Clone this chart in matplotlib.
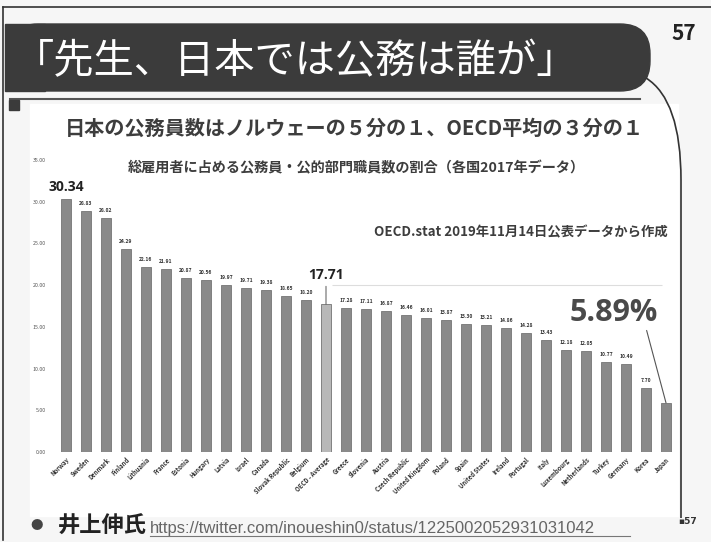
import matplotlib
matplotlib.use('Agg')
import matplotlib.pyplot as plt
from matplotlib.patches import FancyBboxPatch, Rectangle, PathPatch
from matplotlib.path import Path


COUNTRIES = [
    'Norway', 'Sweden', 'Denmark', 'Finland', 'Lithuania', 'France', 'Estonia',
    'Hungary', 'Latvia', 'Israel', 'Canada', 'Slovak Republic', 'Belgium',
    'OECD - Average', 'Greece', 'Slovenia', 'Austria', 'Czech Republic',
    'United Kingdom', 'Poland', 'Spain', 'United States', 'Ireland',
    'Portugal', 'Italy', 'Luxembourg', 'Netherlands', 'Turkey', 'Germany',
    'Korea', 'Japan',
]
SHARES = [
    30.34, 28.83, 28.02, 24.29, 22.16, 21.91, 20.87,
    20.56, 19.97, 19.71, 19.38, 18.65, 18.20,
    17.71, 17.28, 17.11, 16.87, 16.46,
    16.01, 15.87, 15.30, 15.21, 14.86,
    14.28, 13.43, 12.18, 12.05, 10.77, 10.49,
    7.70, 5.89,
]
Y_TICKS = [0, 5, 10, 15, 20, 25, 30, 35]

W, H = 711, 542
JP = ['Noto Sans CJK JP', 'DejaVu Sans']


def px_rect(x0, y0, x1, y1):
    # pixel box (top-left origin) -> figure fraction
    return [x0 / W, 1 - y1 / H, (x1 - x0) / W, (y1 - y0) / H]


def draw_frame(bg):
    bg.add_patch(Rectangle((0, 0), W, H, color='#f6f6f6', zorder=0))
    bg.add_patch(Rectangle((30, 104), 648, 412, color='white', zorder=1))
    bg.plot([3, 3], [7, 540], color='#333333', lw=1.2, zorder=2)
    bg.plot([3, 711], [7, 7], color='#333333', lw=1.2, zorder=2)
    bg.add_patch(FancyBboxPatch((8, 24), 642, 67,
                                boxstyle='round,pad=0,rounding_size=30',
                                color='#3b3b3b', zorder=3))
    bg.add_patch(Rectangle((5, 24), 40, 67, color='#3b3b3b', zorder=3))
    bg.plot([10, 640], [99, 99], color='#555555', lw=1.5, zorder=3)
    bg.add_patch(Rectangle((9, 100), 10, 10, color='#3b3b3b', zorder=3))
    curve = Path([(646, 78), (681, 100), (681, 180), (681, 518)],
                 [Path.MOVETO, Path.CURVE3, Path.CURVE3, Path.LINETO])
    bg.add_patch(PathPatch(curve, facecolor='none', edgecolor='#333333',
                           lw=1.2, zorder=3))


def draw_texts(bg):
    bg.text(14, 62, '「先生、日本では公務は誰が」', color='white', fontsize=29,
            family=JP, va='center', ha='left', zorder=4)
    bg.text(684, 34, '57', fontsize=15, fontweight='bold', family=JP,
            ha='center', va='center', color='#222222', zorder=4)
    bg.text(354, 128, '日本の公務員数はノルウェーの５分の１、OECD平均の３分の１',
            fontsize=14.5, fontweight='bold', family=JP, ha='center',
            va='center', color='#3d3d3d', zorder=4)
    bg.text(356, 168, '総雇用者に占める公務員・公的部門職員数の割合（各国2017年データ）',
            fontsize=10.2, fontweight='bold', family=JP, ha='center',
            va='center', color='#3d3d3d', zorder=4)
    bg.text(668, 232, 'OECD.stat 2019年11月14日公表データから作成',
            fontsize=9.6, fontweight='bold', family=JP, ha='right',
            va='center', color='#3d3d3d', zorder=4)
    bg.text(30, 526, '●', fontsize=9, family=JP, ha='left', va='center',
            color='#444444', zorder=4)
    bg.text(58, 526, '井上伸氏', fontsize=16, fontweight='bold', family=JP,
            ha='left', va='center', color='#222222', zorder=4)
    bg.text(150, 528, 'https://twitter.com/inoueshin0/status/1225002052931031042',
            fontsize=12, family='Liberation Sans', ha='left',
            va='center', color='#666666', zorder=4)
    bg.plot([150, 630], [536, 536], color='#777777', lw=0.8, zorder=4)
    bg.text(688, 522, '▪57', fontsize=6.5, fontweight='bold',
            family='DejaVu Sans', ha='center', va='center', color='#333333',
            zorder=4)


def plot_chart(ax):
    idx = list(range(len(COUNTRIES)))
    colors = ['#b8b8b8' if c.startswith('OECD') else '#8a8a8a' for c in COUNTRIES]
    ax.bar(idx, SHARES, width=0.48, color=colors, edgecolor='#747474',
           linewidth=0.6, zorder=2)
    ax.hlines(20, 13.3, 29.8, color='#dddddd', lw=0.8, zorder=1)

    for i, v in enumerate(SHARES):
        if COUNTRIES[i] in ('Norway', 'OECD - Average', 'Japan'):
            continue
        ax.text(i, v + 0.6, f'{v:.2f}', fontsize=3.6, fontweight='bold',
                ha='center', va='bottom', color='#333333')

    ax.text(0, 31.8, f'{SHARES[0]:.2f}', fontsize=10, fontweight='bold',
            family='Open Sans', ha='center', va='center', color='#222222')
    oecd = COUNTRIES.index('OECD - Average')
    ax.annotate(f'{SHARES[oecd]:.2f}', xy=(oecd, SHARES[oecd]),
                xytext=(oecd, 21.2), fontsize=10, fontweight='bold',
                family='Open Sans', ha='center', va='center', color='#222222',
                arrowprops=dict(arrowstyle='-', color='#555555', lw=0.7,
                                relpos=(0.5, 0), shrinkA=1, shrinkB=0))
    jp = COUNTRIES.index('Japan')
    ax.annotate(f'{SHARES[jp]:.2f}%', xy=(jp, SHARES[jp]),
                xytext=(27.4, 16.7), fontsize=22, fontweight='bold',
                family='Open Sans', ha='center', va='center', color='#4a4a4a',
                arrowprops=dict(arrowstyle='-', color='#555555', lw=0.8,
                                relpos=(0.82, 0.45), shrinkA=0, shrinkB=0))

    ax.set_xlim(-0.8, len(COUNTRIES) - 0.5)
    ax.set_ylim(0, 35)
    ax.set_yticks(Y_TICKS)
    ax.set_yticklabels([f'{t:.2f}' for t in Y_TICKS], fontsize=3.8,
                       color='#555555')
    ax.set_xticks(idx)
    ax.set_xticklabels(COUNTRIES, rotation=45, ha='right', va='top',
                       rotation_mode='anchor', fontsize=4.3,
                       fontweight='bold', color='#333333')
    ax.tick_params(length=0, pad=3)
    for s in ax.spines.values():
        s.set_visible(False)
    ax.set_facecolor('none')


def main():
    plt.rcParams['font.family'] = JP
    fig = plt.figure(figsize=(W / 100, H / 100), dpi=100)
    bg = fig.add_axes([0, 0, 1, 1], zorder=0)
    bg.set_xlim(0, W)
    bg.set_ylim(H, 0)
    bg.axis('off')
    draw_frame(bg)
    draw_texts(bg)

    ax = fig.add_axes(px_rect(50, 160, 676, 452), zorder=1)
    plot_chart(ax)
    fig.savefig('out.png', dpi=100)


if __name__ == '__main__':
    main()
